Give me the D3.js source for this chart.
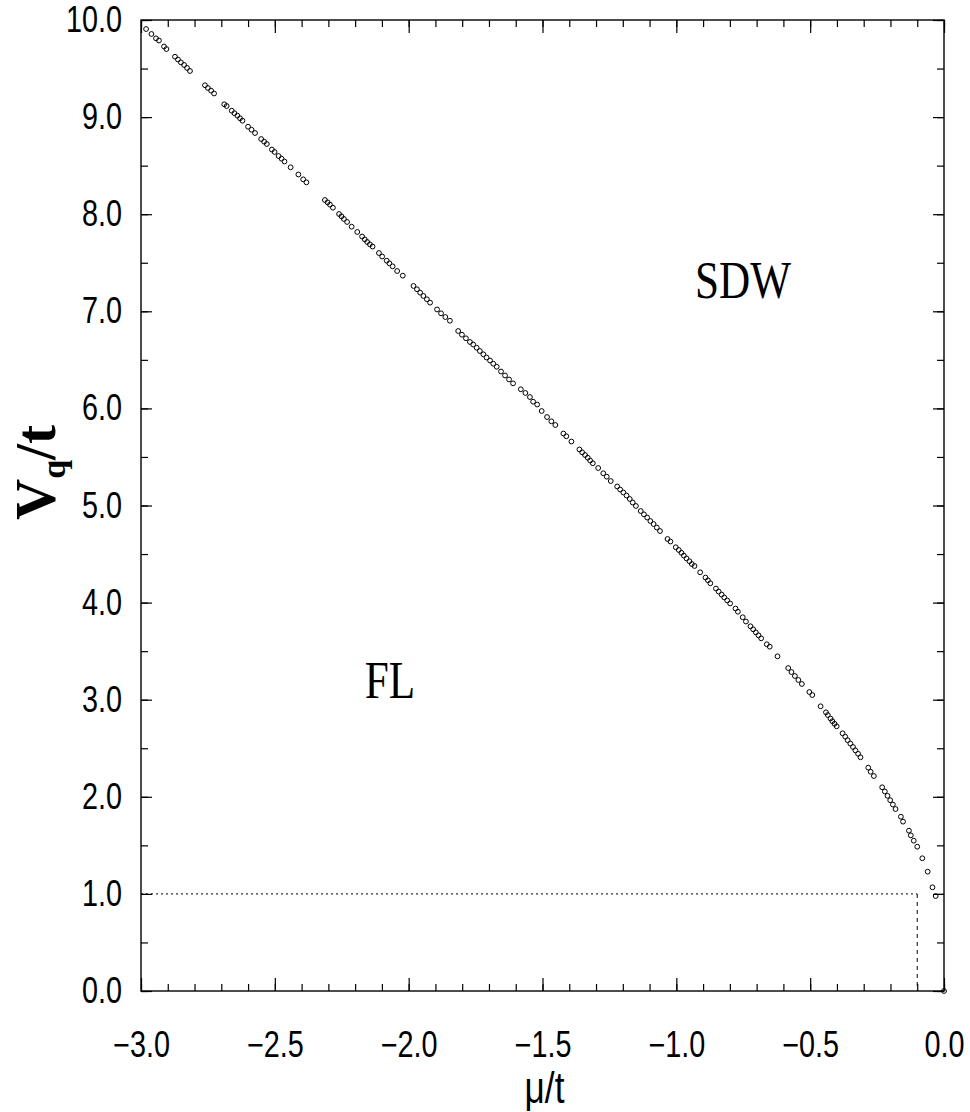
<!DOCTYPE html>
<html>
<head>
<meta charset="utf-8">
<script src="https://cdn.jsdelivr.net/npm/d3@7"></script>
<style>
  body { margin: 0; background: #fff; }
</style>
</head>
<body>
<script>
  // phase boundary points, mu/t
  var muVals = [
    -2.981, -2.961, -2.944, -2.933, -2.914, -2.905, -2.873, -2.862, -2.851, -2.839,
    -2.828, -2.817, -2.761, -2.750, -2.738, -2.727, -2.689, -2.680, -2.661, -2.651,
    -2.640, -2.630, -2.621, -2.600, -2.587, -2.574, -2.551, -2.540, -2.530, -2.511,
    -2.501, -2.486, -2.475, -2.464, -2.441, -2.412, -2.394, -2.382,
    -2.313, -2.303, -2.294, -2.283, -2.260, -2.251, -2.242, -2.230, -2.213, -2.192,
    -2.174, -2.164, -2.155, -2.145, -2.135, -2.111, -2.099, -2.082, -2.072, -2.060,
    -2.043, -2.022,
    -1.982, -1.969, -1.957, -1.945, -1.932, -1.920, -1.894, -1.879, -1.863, -1.846,
    -1.815, -1.801, -1.786, -1.771, -1.759, -1.746, -1.734, -1.721, -1.709, -1.696,
    -1.684, -1.671, -1.655, -1.640, -1.625, -1.610, -1.581, -1.564, -1.547, -1.535,
    -1.520, -1.503, -1.483, -1.467, -1.452, -1.422, -1.411, -1.392, -1.362, -1.352,
    -1.341, -1.331, -1.322, -1.312, -1.292, -1.273, -1.260, -1.245, -1.221, -1.210,
    -1.198, -1.186, -1.174, -1.163, -1.151, -1.133, -1.121, -1.109, -1.097, -1.085,
    -1.073, -1.061, -1.033, -1.022, -1.002, -0.991, -0.981, -0.972, -0.962, -0.951,
    -0.942, -0.932, -0.911, -0.891, -0.882, -0.873, -0.852, -0.842, -0.831, -0.821,
    -0.810, -0.799, -0.779, -0.770, -0.752, -0.740, -0.723, -0.713, -0.703, -0.693,
    -0.683, -0.662, -0.651, -0.622,
    -0.582, -0.570, -0.557, -0.544, -0.531, -0.503, -0.492, -0.461, -0.441, -0.434,
    -0.424, -0.417, -0.409, -0.401, -0.379, -0.369, -0.360, -0.350, -0.340, -0.331,
    -0.321, -0.312, -0.283, -0.274, -0.262, -0.231, -0.221, -0.211, -0.201, -0.191,
    -0.181, -0.161, -0.153, -0.131, -0.124, -0.113, -0.100, -0.081, -0.061, -0.043,
    -0.031, 0.000
  ];
  // phase boundary points, Vq/t
  var vqVals = [
    9.907, 9.856, 9.811, 9.789, 9.727, 9.701, 9.622, 9.593, 9.564, 9.537,
    9.506, 9.475, 9.328, 9.300, 9.272, 9.243, 9.132, 9.114, 9.066, 9.040,
    9.015, 8.988, 8.963, 8.901, 8.870, 8.836, 8.774, 8.747, 8.723, 8.666,
    8.641, 8.599, 8.572, 8.543, 8.483, 8.409, 8.359, 8.328,
    8.146, 8.122, 8.098, 8.067, 8.002, 7.978, 7.951, 7.920, 7.871, 7.817,
    7.770, 7.741, 7.714, 7.690, 7.667, 7.600, 7.564, 7.521, 7.494, 7.463,
    7.415, 7.367,
    7.261, 7.227, 7.192, 7.158, 7.124, 7.089, 7.019, 6.979, 6.941, 6.903,
    6.797, 6.759, 6.722, 6.684, 6.658, 6.625, 6.591, 6.557, 6.524, 6.493,
    6.460, 6.429, 6.380, 6.339, 6.298, 6.258, 6.197, 6.159, 6.117, 6.069,
    6.040, 5.973, 5.911, 5.867, 5.829, 5.741, 5.713, 5.659, 5.577, 5.548,
    5.520, 5.492, 5.463, 5.435, 5.386, 5.332, 5.297, 5.252, 5.196, 5.165,
    5.134, 5.103, 5.067, 5.031, 4.995, 4.943, 4.909, 4.876, 4.840, 4.809,
    4.773, 4.737, 4.655, 4.629, 4.570, 4.542, 4.513, 4.484, 4.455, 4.426,
    4.397, 4.377, 4.312, 4.258, 4.230, 4.199, 4.145, 4.114, 4.083, 4.053,
    4.022, 3.991, 3.939, 3.906, 3.849, 3.805, 3.756, 3.725, 3.694, 3.663,
    3.632, 3.571, 3.546, 3.447,
    3.326, 3.285, 3.244, 3.203, 3.162, 3.079, 3.048, 2.932, 2.870, 2.842,
    2.806, 2.778, 2.752, 2.726, 2.654, 2.619, 2.583, 2.548, 2.513, 2.478,
    2.443, 2.407, 2.300, 2.258, 2.214, 2.098, 2.055, 2.010, 1.965, 1.920,
    1.874, 1.795, 1.744, 1.651, 1.603, 1.548, 1.486, 1.367, 1.229, 1.068,
    0.978, 0.000
  ];

  // dotted guide: Vq = 1 up to mu = -0.1
  var guideMu = [-3.0, -0.1, -0.1];
  var guideVq = [1.0, 1.0, 0.0];

  var xTicks = [-3.0, -2.5, -2.0, -1.5, -1.0, -0.5, 0.0];
  var yTicks = [0.0, 1.0, 2.0, 3.0, 4.0, 5.0, 6.0, 7.0, 8.0, 9.0, 10.0];

  var regionNames = ["SDW", "FL"];
  var regionMu = [-0.751, -2.070];
  var regionVq = [7.14, 3.02];

  var margin = {top: 20, right: 26, bottom: 121, left: 141},
      width = 970 - margin.left - margin.right,
      height = 1112 - margin.top - margin.bottom;

  var svg = d3.select("body").append("svg")
      .attr("width", 970)
      .attr("height", 1112)
    .append("g")
      .attr("transform", "translate(" + margin.left + "," + margin.top + ")");

  var x = d3.scaleLinear().domain([-3, 0]).range([0, width]);
  var y = d3.scaleLinear().domain([0, 10]).range([height, 0]);

  var fmt = d3.format(".1f");
  var sansFont = "Liberation Sans, Arial, Helvetica, sans-serif";
  var serifFont = "Liberation Serif, Times New Roman, serif";

  // narrow the glyphs a bit (the original uses a condensed face)
  function squeeze(sel, f) {
    sel.each(function() {
      var w = this.getComputedTextLength();
      d3.select(this).attr("textLength", w * f).attr("lengthAdjust", "spacingAndGlyphs");
    });
  }

  // minor ticks on all four sides
  var minorX = d3.range(-30, 1).map(function(d) { return d / 10; });
  var minorY = d3.range(0, 21).map(function(d) { return d / 2; });

  function drawAxis(axis, tr) {
    var g = svg.append("g").attr("transform", tr).call(axis);
    g.select(".domain").remove();
    g.selectAll(".tick line").attr("stroke", "#000").attr("stroke-width", 1.2);
    return g;
  }

  drawAxis(d3.axisBottom(x).tickValues(minorX).tickSize(-7).tickFormat(""), "translate(0," + height + ")");
  drawAxis(d3.axisTop(x).tickValues(minorX).tickSize(-7).tickFormat(""), "translate(0,0)");
  drawAxis(d3.axisLeft(y).tickValues(minorY).tickSize(-7).tickFormat(""), "translate(0,0)");
  drawAxis(d3.axisRight(y).tickValues(minorY).tickSize(-7).tickFormat(""), "translate(" + width + ",0)");

  drawAxis(d3.axisTop(x).tickValues(xTicks).tickSize(-13).tickFormat(""), "translate(0,0)");
  drawAxis(d3.axisRight(y).tickValues(yTicks).tickSize(-11).tickFormat(""), "translate(" + width + ",0)");

  var xAx = drawAxis(d3.axisBottom(x).tickValues(xTicks).tickSize(-13).tickPadding(40).tickFormat(fmt),
                     "translate(0," + height + ")");
  xAx.selectAll(".tick text")
      .attr("font-size", 36).attr("fill", "#000")
      .attr("font-family", sansFont);
  squeeze(xAx.selectAll(".tick text"), 0.8);

  var yAx = drawAxis(d3.axisLeft(y).tickValues(yTicks).tickSize(-11).tickPadding(19).tickFormat(fmt),
                     "translate(0,0)");
  yAx.selectAll(".tick text")
      .attr("font-size", 36).attr("fill", "#000")
      .attr("font-family", sansFont);
  squeeze(yAx.selectAll(".tick text"), 0.8);

  // frame
  svg.append("rect")
      .attr("x", 0).attr("y", 0)
      .attr("width", width).attr("height", height)
      .attr("fill", "none")
      .attr("stroke", "#000")
      .attr("stroke-width", 1.4);

  // dotted guide lines
  svg.append("line")
      .attr("x1", x(guideMu[0])).attr("y1", y(guideVq[0]))
      .attr("x2", x(guideMu[1])).attr("y2", y(guideVq[1]))
      .attr("stroke", "#000").attr("stroke-width", 1)
      .attr("stroke-dasharray", "2,3");
  svg.append("line")
      .attr("x1", x(guideMu[1])).attr("y1", y(guideVq[1]))
      .attr("x2", x(guideMu[2])).attr("y2", y(guideVq[2]))
      .attr("stroke", "#000").attr("stroke-width", 1)
      .attr("stroke-dasharray", "4,4");

  // boundary points
  var pts = muVals.map(function(m, i) { return {mu: m, vq: vqVals[i]}; });
  svg.selectAll("circle.pt").data(pts).enter()
    .append("circle")
      .attr("class", "pt")
      .attr("cx", function(d) { return x(d.mu); })
      .attr("cy", function(d) { return y(d.vq); })
      .attr("r", 2.4)
      .attr("fill", "none")
      .attr("stroke", "#000")
      .attr("stroke-width", 1);

  // region labels
  var reg = svg.selectAll("text.region").data(regionNames).enter()
    .append("text")
      .attr("class", "region")
      .attr("x", function(d, i) { return x(regionMu[i]); })
      .attr("y", function(d, i) { return y(regionVq[i]); })
      .attr("text-anchor", "middle")
      .attr("font-family", serifFont)
      .attr("font-size", 52)
      .text(function(d) { return d; });
  squeeze(reg, 0.83);

  // axis titles
  var xt = svg.append("text")
      .attr("x", width / 2 + 2)
      .attr("y", height + 112)
      .attr("text-anchor", "middle")
      .attr("font-family", sansFont)
      .attr("font-size", 44)
      .text("μ/t");
  squeeze(xt, 0.8);

  var yt = svg.append("text")
      .attr("transform", "translate(" + (-86) + "," + (height / 2 - 33) + ") rotate(-90)")
      .attr("text-anchor", "middle")
      .attr("font-family", serifFont)
      .attr("font-weight", "bold")
      .attr("font-size", 57);
  yt.append("tspan").text("V");
  yt.append("tspan").attr("font-size", 34).attr("dy", 10).text("q");
  yt.append("tspan").attr("dy", -10).text("/t");
</script>
</body>
</html>
